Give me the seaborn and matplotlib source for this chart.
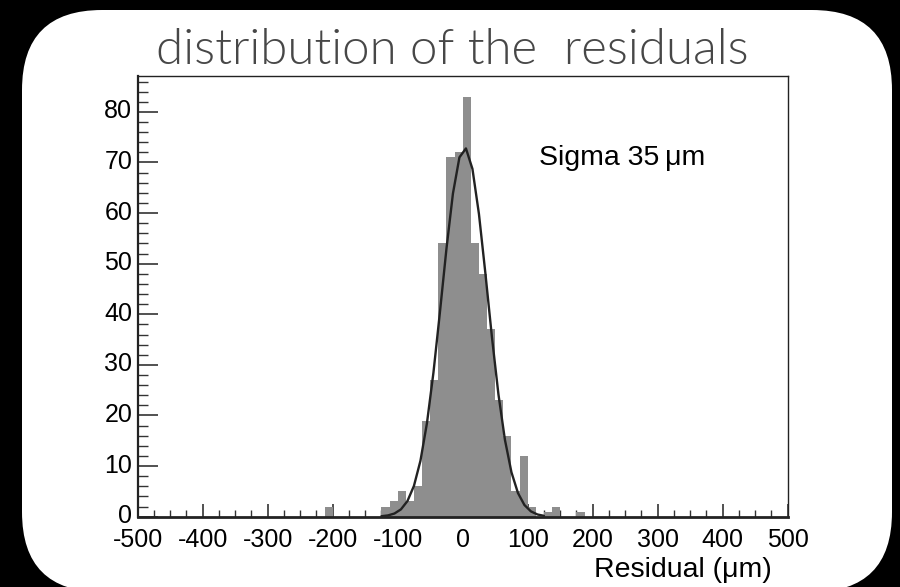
import numpy as np
import pandas as pd
import matplotlib
matplotlib.use("Agg")
import matplotlib.pyplot as plt
from matplotlib.patches import FancyBboxPatch
from matplotlib.ticker import MultipleLocator
from matplotlib.transforms import ScaledTranslation
import seaborn as sns

# Residual histogram: 80 bins of 12.5 um between -500 and 500 um
bin_edges = np.linspace(-500, 500, 81)
bin_index = [23, 30, 31, 32, 33, 34, 35, 36, 37, 38, 39, 40, 41, 42, 43, 44, 45, 46, 47, 48, 50, 51, 54]
bin_counts = [2, 2, 3, 5, 3, 6, 19, 27, 54, 71, 72, 83, 54, 48, 37, 23, 16, 5, 12, 2, 1, 2, 1]

# Gaussian fit parameters
fit_constant = 72.9
fit_mean = 3.0
fit_sigma = 35.0
fit_range = (-125, 125)

x_ticks = [-500, -400, -300, -200, -100, 0, 100, 200, 300, 400, 500]
y_ticks = [0, 10, 20, 30, 40, 50, 60, 70, 80]

sns.set_theme(style="ticks")
plt.rcParams["font.family"] = ["Liberation Sans", "DejaVu Sans"]

fig = plt.figure(figsize=(9.0, 5.87), dpi=100, facecolor="black")

# rounded white card behind the plot (pixel coordinates, y downwards)
bg = fig.add_axes([0, 0, 1, 1], zorder=0)
bg.set_xlim(0, 900)
bg.set_ylim(587, 0)
bg.axis("off")
bg.add_patch(FancyBboxPatch((22, 10), 870, 582,
                            boxstyle="round,pad=0,rounding_size=80",
                            facecolor="white", edgecolor="none"))
bg.text(452, 64, "distribution of the  residuals", ha="center", va="baseline",
        fontsize=35.5, color="#474747", family=["Lato", "DejaVu Sans"],
        fontweight=300)
bg.text(772, 577, "Residual (\u03bcm)", ha="right", va="baseline",
        fontsize=20.5, color="black")

ax = fig.add_axes([0.153, 0.1198, 0.7222, 0.7512], zorder=1)
ax.set_facecolor("white")

centers = (bin_edges[:-1] + bin_edges[1:]) / 2
df = pd.DataFrame({"residual": centers[bin_index], "count": bin_counts})
sns.histplot(data=df, x="residual", weights="count", bins=bin_edges.tolist(),
             element="bars", color="#8e8e8e", alpha=1.0, linewidth=0,
             ax=ax)

fx = np.linspace(fit_range[0], fit_range[1], 26)
fy = fit_constant * np.exp(-0.5 * ((fx - fit_mean) / fit_sigma) ** 2)
sns.lineplot(x=fx, y=fy, color="#222222", linewidth=1.7, ax=ax, sort=False)

ax.set_xlim(-500, 500)
ax.set_ylim(0, 87.15)
ax.set_xticks(x_ticks)
ax.set_xticklabels([str(v) for v in x_ticks])
ax.set_yticks(y_ticks)
ax.set_yticklabels([str(v) for v in y_ticks])
ax.xaxis.set_minor_locator(MultipleLocator(25))
ax.yaxis.set_minor_locator(MultipleLocator(2))

ax.tick_params(axis="x", which="major", direction="in", length=9.5, width=1.2,
               color="#333333", labelsize=18, pad=8, labelcolor="black")
ax.tick_params(axis="x", which="minor", direction="in", length=5, width=1.0,
               color="#333333")
ax.tick_params(axis="y", which="major", direction="in", length=14.5, width=1.2,
               color="#333333", labelsize=18, pad=4, labelcolor="black")
ax.tick_params(axis="y", which="minor", direction="in", length=7.5, width=1.0,
               color="#333333")

# y labels sit slightly above their ticks
lift = ScaledTranslation(0, 3 / 100, fig.dpi_scale_trans)
for lbl in ax.get_yticklabels():
    lbl.set_transform(lbl.get_transform() + lift)

ax.set_xlabel("")
ax.set_ylabel("")
for side, lw in (("left", 1.6), ("bottom", 2.0), ("top", 1.0), ("right", 1.0)):
    ax.spines[side].set_visible(True)
    ax.spines[side].set_linewidth(lw)
    ax.spines[side].set_color("#222222")

ax.text(117, 69.5, "Sigma 35\u2009\u03bcm", ha="left", va="baseline",
        fontsize=20.5, color="black")

fig.savefig("out.png", dpi=100, facecolor="black")
